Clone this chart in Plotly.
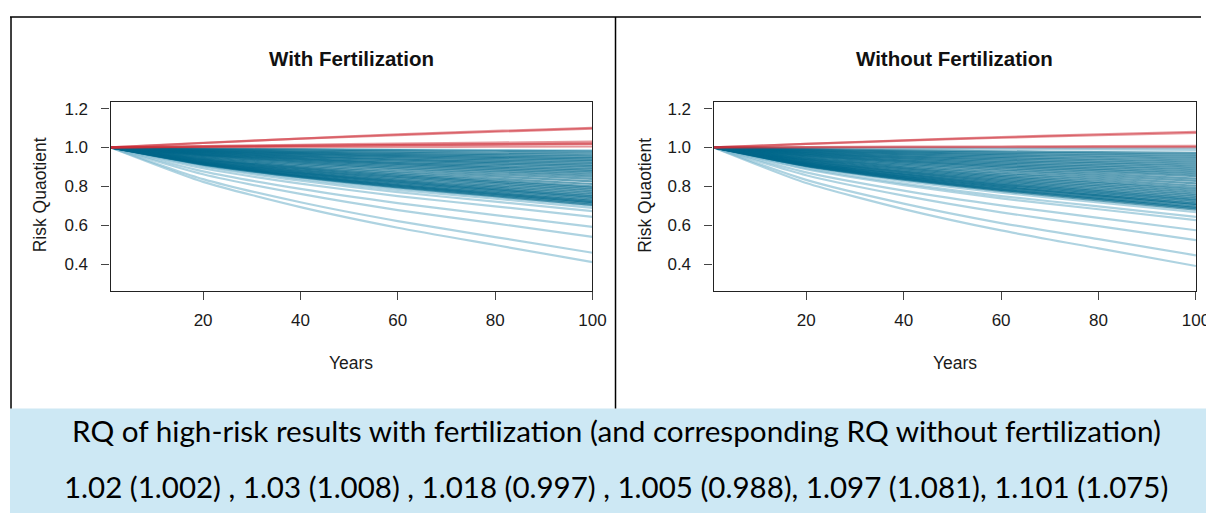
import plotly.graph_objects as go

W, H = 1206, 513
FIG_W = 1221  # the page is captured at this width and scaled back to 1206

YEARS = [1, 20, 40, 60, 80, 100]
Y_TICKS = [0.4, 0.6, 0.8, 1.0, 1.2]
X_TICKS = [20, 40, 60, 80, 100]

PANEL_TITLES = ["With Fertilization", "Without Fertilization"]
X_TITLE = "Years"
Y_TITLE = "Risk Quaotient"
NOTE_LINE1 = "RQ of high-risk results with fertilization (and corresponding RQ without fertilization)"
NOTE_LINE2 = "1.02 (1.002) , 1.03 (1.008) , 1.018 (0.997) , 1.005 (0.988), 1.097 (1.081), 1.101 (1.075)"

WITH_RED = [
    [1, 1.024, 1.046, 1.067, 1.085, 1.101],
    [1, 1.023, 1.045, 1.064, 1.081, 1.097],
    [1, 1.007, 1.014, 1.020, 1.025, 1.030],
    [1, 1.005, 1.009, 1.013, 1.017, 1.020],
    [1, 1.004, 1.008, 1.012, 1.015, 1.018],
    [1, 1.001, 1.002, 1.003, 1.004, 1.005],
]
WITH_LIGHT = [
    [1, 0.823, 0.693, 0.587, 0.498, 0.410],
    [1, 0.837, 0.718, 0.621, 0.539, 0.458],
    [1, 0.862, 0.761, 0.678, 0.609, 0.540],
    [1, 0.877, 0.787, 0.714, 0.652, 0.591],
    [1, 0.893, 0.814, 0.750, 0.697, 0.643],
    [1, 0.902, 0.829, 0.770, 0.721, 0.672],
    [1, 0.907, 0.838, 0.782, 0.736, 0.689],
    [1, 0.910, 0.844, 0.790, 0.745, 0.700],
    [1, 0.916, 0.854, 0.804, 0.762, 0.720],
    [1, 0.923, 0.867, 0.821, 0.783, 0.745],
    [1, 0.995, 0.992, 0.989, 0.987, 0.985],
]
WITH_DARK = [
    [1, 0.912, 0.847, 0.794, 0.749, 0.705],
    [1, 0.914, 0.850, 0.798, 0.755, 0.712],
    [1, 0.915, 0.853, 0.803, 0.760, 0.718],
    [1, 0.917, 0.857, 0.807, 0.766, 0.725],
    [1, 0.920, 0.861, 0.812, 0.772, 0.732],
    [1, 0.922, 0.865, 0.818, 0.779, 0.740],
    [1, 0.924, 0.869, 0.824, 0.786, 0.748],
    [1, 0.927, 0.873, 0.829, 0.793, 0.756],
    [1, 0.929, 0.878, 0.835, 0.800, 0.765],
    [1, 0.932, 0.882, 0.842, 0.808, 0.774],
    [1, 0.935, 0.887, 0.848, 0.816, 0.783],
    [1, 0.938, 0.892, 0.854, 0.823, 0.792],
    [1, 0.940, 0.896, 0.860, 0.830, 0.800],
    [1, 0.944, 0.902, 0.868, 0.840, 0.812],
    [1, 0.947, 0.909, 0.877, 0.851, 0.825],
    [1, 0.951, 0.916, 0.887, 0.862, 0.838],
    [1, 0.955, 0.922, 0.895, 0.872, 0.850],
    [1, 0.958, 0.927, 0.902, 0.881, 0.860],
    [1, 0.961, 0.932, 0.909, 0.889, 0.870],
    [1, 0.963, 0.937, 0.915, 0.896, 0.878],
    [1, 0.966, 0.941, 0.920, 0.903, 0.886],
    [1, 0.968, 0.945, 0.926, 0.911, 0.895],
    [1, 0.971, 0.950, 0.933, 0.918, 0.904],
    [1, 0.974, 0.954, 0.938, 0.925, 0.912],
    [1, 0.976, 0.958, 0.944, 0.932, 0.920],
    [1, 0.978, 0.963, 0.950, 0.939, 0.928],
    [1, 0.981, 0.967, 0.955, 0.946, 0.936],
    [1, 0.983, 0.971, 0.961, 0.952, 0.944],
    [1, 0.986, 0.975, 0.966, 0.959, 0.952],
    [1, 0.988, 0.979, 0.972, 0.966, 0.960],
    [1, 0.991, 0.984, 0.979, 0.974, 0.970],
    [1, 0.994, 0.990, 0.986, 0.983, 0.980],
]

WITHOUT_RED = [
    [1, 1.019, 1.037, 1.053, 1.068, 1.081],
    [1, 1.018, 1.035, 1.050, 1.063, 1.075],
    [1, 1.002, 1.004, 1.005, 1.007, 1.008],
    [1, 1.000, 1.001, 1.001, 1.002, 1.002],
]
WITHOUT_LIGHT = [
    [1, 0.817, 0.683, 0.573, 0.481, 0.390],
    [1, 0.833, 0.711, 0.611, 0.528, 0.445],
    [1, 0.857, 0.752, 0.666, 0.595, 0.523],
    [1, 0.872, 0.778, 0.702, 0.638, 0.574],
    [1, 0.888, 0.806, 0.738, 0.682, 0.626],
    [1, 0.893, 0.814, 0.750, 0.697, 0.643],
    [1, 0.900, 0.827, 0.767, 0.717, 0.667],
    [1, 0.907, 0.839, 0.783, 0.736, 0.690],
    [1, 0.913, 0.849, 0.797, 0.753, 0.710],
    [1, 0.919, 0.860, 0.811, 0.770, 0.730],
    [1, 0.999, 0.998, 0.998, 0.997, 0.997],
    [1, 0.996, 0.994, 0.992, 0.990, 0.988],
]
WITHOUT_DARK = [
    [1, 0.904, 0.834, 0.776, 0.728, 0.680],
    [1, 0.906, 0.838, 0.782, 0.735, 0.688],
    [1, 0.908, 0.841, 0.786, 0.741, 0.695],
    [1, 0.911, 0.846, 0.792, 0.748, 0.703],
    [1, 0.913, 0.849, 0.797, 0.753, 0.710],
    [1, 0.915, 0.853, 0.803, 0.760, 0.718],
    [1, 0.918, 0.858, 0.808, 0.767, 0.726],
    [1, 0.920, 0.862, 0.814, 0.775, 0.735],
    [1, 0.923, 0.867, 0.821, 0.782, 0.744],
    [1, 0.926, 0.872, 0.827, 0.790, 0.753],
    [1, 0.929, 0.876, 0.833, 0.798, 0.762],
    [1, 0.932, 0.881, 0.840, 0.806, 0.772],
    [1, 0.935, 0.887, 0.847, 0.815, 0.782],
    [1, 0.938, 0.892, 0.854, 0.823, 0.792],
    [1, 0.941, 0.898, 0.862, 0.833, 0.803],
    [1, 0.944, 0.904, 0.870, 0.843, 0.815],
    [1, 0.948, 0.911, 0.880, 0.854, 0.828],
    [1, 0.952, 0.917, 0.888, 0.864, 0.840],
    [1, 0.956, 0.923, 0.896, 0.874, 0.852],
    [1, 0.959, 0.928, 0.903, 0.883, 0.862],
    [1, 0.962, 0.933, 0.910, 0.891, 0.872],
    [1, 0.965, 0.939, 0.917, 0.900, 0.882],
    [1, 0.968, 0.944, 0.924, 0.908, 0.892],
    [1, 0.971, 0.949, 0.931, 0.917, 0.902],
    [1, 0.974, 0.954, 0.938, 0.925, 0.912],
    [1, 0.977, 0.959, 0.945, 0.934, 0.922],
    [1, 0.980, 0.965, 0.952, 0.942, 0.932],
    [1, 0.983, 0.970, 0.959, 0.951, 0.942],
    [1, 0.986, 0.975, 0.966, 0.959, 0.952],
    [1, 0.989, 0.980, 0.973, 0.968, 0.962],
    [1, 0.992, 0.985, 0.980, 0.976, 0.972],
]

LIGHT_COLOR = "rgba(120,182,205,0.6)"
DARK_COLOR = "rgba(0,104,139,0.62)"
RED_COLOR = "rgba(205,45,55,0.5)"

FONT = "Liberation Sans, Arial, sans-serif"

def px_x(x):
    return x / W

def px_y(y):
    return 1 - y / H

panels = [
    dict(xdom=[px_x(110.5), px_x(592)], light=WITH_LIGHT, dark=WITH_DARK, red=WITH_RED,
         cx=351, ytx=40),
    dict(xdom=[px_x(713), px_x(1195)], light=WITHOUT_LIGHT, dark=WITHOUT_DARK, red=WITHOUT_RED,
         cx=954, ytx=645),
]
ydom = [px_y(290), px_y(100)]

fig = go.Figure()
annotations = []
for i, p in enumerate(panels):
    xa = "x" if i == 0 else "x2"
    ya = "y" if i == 0 else "y2"
    for group, col in ((p["light"], LIGHT_COLOR), (p["dark"], DARK_COLOR), (p["red"], RED_COLOR)):
        for series in group:
            fig.add_trace(go.Scatter(
                x=YEARS, y=series, mode="lines", xaxis=xa, yaxis=ya,
                line=dict(color=col, width=2.2, shape="spline", smoothing=0.6),
                showlegend=False, hoverinfo="skip"))
    axis_common = dict(
        showline=True, linecolor="#222", linewidth=1.2, mirror=True,
        ticks="outside", ticklen=8, tickcolor="#444", tickwidth=1.2,
        showgrid=False, zeroline=False,
        tickfont=dict(family=FONT, size=17, color="#1a1a1a"),
    )
    fig.layout["xaxis" if i == 0 else "xaxis2"] = dict(
        axis_common, domain=p["xdom"], range=[1, 100], tickvals=X_TICKS,
        anchor=ya, ticklabelstandoff=6)
    fig.layout["yaxis" if i == 0 else "yaxis2"] = dict(
        axis_common, domain=ydom, range=[0.262, 1.236], tickvals=Y_TICKS,
        tickformat=".1f", anchor=xa, ticklabelstandoff=10)
    annotations.append(dict(text="<b>%s</b>" % PANEL_TITLES[i], x=px_x(p["cx"]), y=px_y(57),
                            xref="paper", yref="paper", showarrow=False,
                            xanchor="center", yanchor="middle",
                            font=dict(family=FONT, size=20.5, color="#111")))
    annotations.append(dict(text=X_TITLE, x=px_x(p["cx"]), y=px_y(362),
                            xref="paper", yref="paper", showarrow=False,
                            xanchor="center", yanchor="middle",
                            font=dict(family=FONT, size=17.5, color="#1a1a1a")))
    annotations.append(dict(text=Y_TITLE, x=px_x(p["ytx"]), y=px_y(194), textangle=-90,
                            xref="paper", yref="paper", showarrow=False,
                            xanchor="center", yanchor="middle",
                            font=dict(family=FONT, size=17.5, color="#1a1a1a")))

annotations.append(dict(text=NOTE_LINE1, x=px_x(616), y=px_y(430), xref="paper", yref="paper",
                        showarrow=False, xanchor="center", yanchor="middle",
                        font=dict(family="Lato, Carlito, sans-serif", size=29.7, color="#000")))
annotations.append(dict(text=NOTE_LINE2, x=px_x(615), y=px_y(486), xref="paper", yref="paper",
                        showarrow=False, xanchor="center", yanchor="middle",
                        font=dict(family="Lato, Carlito, sans-serif", size=29.5, color="#000")))

shapes = [
    dict(type="rect", xref="paper", yref="paper", x0=px_x(10), x1=1, y0=0, y1=px_y(408),
         fillcolor="#CDE8F4", line=dict(width=0), layer="below"),
    dict(type="line", xref="paper", yref="paper", x0=px_x(10), x1=px_x(1200), y0=px_y(15), y1=px_y(15),
         line=dict(color="#000", width=1.5)),
    dict(type="line", xref="paper", yref="paper", x0=px_x(11), x1=px_x(11), y0=px_y(15), y1=px_y(408),
         line=dict(color="#000", width=1.5)),
    dict(type="line", xref="paper", yref="paper", x0=px_x(615), x1=px_x(615), y0=px_y(15), y1=px_y(408),
         line=dict(color="#000", width=1.5)),
]

fig.update_layout(
    width=FIG_W, height=H, autosize=False,
    margin=dict(l=0, r=0, t=0, b=0),
    paper_bgcolor="white", plot_bgcolor="white",
    annotations=annotations, shapes=shapes,
    showlegend=False,
)

page_fix = """
document.documentElement.style.margin='0';
document.body.style.margin='0';
document.body.style.overflow='hidden';
document.documentElement.style.overflow='hidden';
"""

fig.write_html("out.html", config={"displayModeBar": False}, post_script=page_fix)
